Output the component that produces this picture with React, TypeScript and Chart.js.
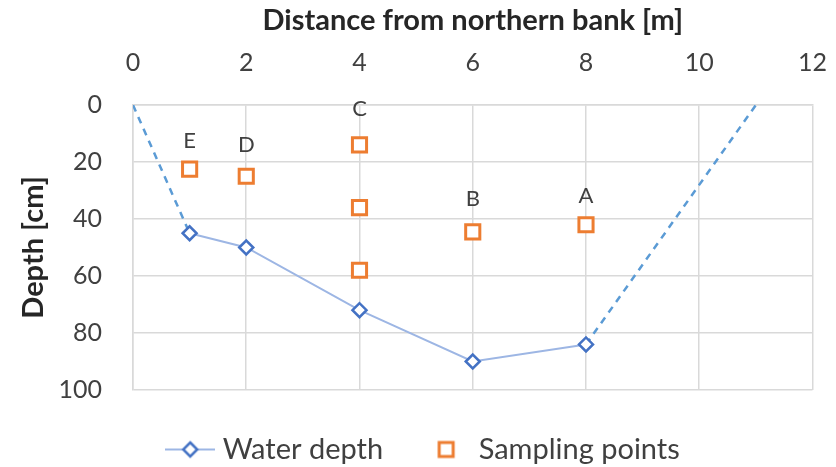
import { useEffect, useRef } from 'react';
import { Chart, registerables } from 'chart.js';

Chart.register(...registerables);

// ---- data ----
const depthX = [1, 2, 4, 6, 8];
const depthY = [45, 50, 72, 90, 84];
const leftBankX = [0, 1];
const leftBankY = [0, 45];
const rightBankX = [8, 11];
const rightBankY = [84, 0];
const sampleX = [1, 2, 4, 4, 4, 6, 8];
const sampleY = [22.5, 25, 14, 36, 58, 44.5, 42];
const pointNames = ['E', 'D', 'C', 'B', 'A'];
const pointNameX = [1, 2, 4, 6, 8];
const pointNameY = [12.5, 14, 1.5, 33, 32];
const seriesNames = ['Water depth', 'Sampling points'];

const FONT = 'Lato';
const TICK_COLOR = '#404040';
const TITLE_COLOR = '#262626';
const GRID = '#d9d9d9';
const LINE_BLUE = '#9db6e4';
const MARK_BLUE = '#4472c4';
const DASH_BLUE = '#5b9bd5';
const ORANGE = '#ed7d31';

const toPts = (xs: number[], ys: number[]) => xs.map((x, i) => ({ x, y: ys[i] }));

function lineDiamondIcon() {
  const c = document.createElement('canvas');
  c.width = 50;
  c.height = 20;
  const ctx = c.getContext('2d')!;
  ctx.strokeStyle = LINE_BLUE;
  ctx.lineWidth = 2;
  ctx.beginPath();
  ctx.moveTo(0, 10);
  ctx.lineTo(50, 10);
  ctx.stroke();
  ctx.beginPath();
  ctx.moveTo(25, 3);
  ctx.lineTo(32, 10);
  ctx.lineTo(25, 17);
  ctx.lineTo(18, 10);
  ctx.closePath();
  ctx.fillStyle = '#fff';
  ctx.fill();
  ctx.strokeStyle = MARK_BLUE;
  ctx.lineWidth = 2.5;
  ctx.stroke();
  return c;
}

function squareIcon() {
  const c = document.createElement('canvas');
  c.width = 50;
  c.height = 20;
  const ctx = c.getContext('2d')!;
  ctx.fillStyle = '#fff';
  ctx.fillRect(18, 3, 14, 14);
  ctx.strokeStyle = ORANGE;
  ctx.lineWidth = 3;
  ctx.strokeRect(18, 3, 14, 14);
  return c;
}

const pointNamePlugin = {
  id: 'pointNames',
  afterDatasetsDraw(chart: any) {
    const { ctx, scales } = chart;
    ctx.save();
    ctx.font = `22px ${FONT}`;
    ctx.fillStyle = TICK_COLOR;
    ctx.textAlign = 'center';
    ctx.textBaseline = 'middle';
    pointNames.forEach((n, i) => {
      ctx.fillText(n, scales.x.getPixelForValue(pointNameX[i]), scales.y.getPixelForValue(pointNameY[i]));
    });
    ctx.restore();
  },
};

export default function App() {
  const ref = useRef<HTMLCanvasElement | null>(null);
  useEffect(() => {
    const diamondIcon = lineDiamondIcon();
    const sqIcon = squareIcon();
    const chart = new Chart(ref.current!, {
      type: 'scatter',
      data: {
        datasets: [
          {
            label: seriesNames[0],
            data: toPts(depthX, depthY),
            showLine: true,
            borderColor: LINE_BLUE,
            borderWidth: 2,
            pointStyle: 'rectRot',
            pointRadius: 7,
            pointBorderColor: MARK_BLUE,
            pointBackgroundColor: '#fff',
            pointBorderWidth: 2.5,
            order: 2,
          },
          {
            label: 'left',
            data: toPts(leftBankX, leftBankY),
            showLine: true,
            borderColor: DASH_BLUE,
            borderWidth: 2.5,
            borderDash: [7, 6],
            pointRadius: 0,
            order: 3,
          },
          {
            label: 'right',
            data: toPts(rightBankX, rightBankY),
            showLine: true,
            borderColor: DASH_BLUE,
            borderWidth: 2.5,
            borderDash: [7, 6],
            pointRadius: 0,
            order: 3,
          },
          {
            label: seriesNames[1],
            data: toPts(sampleX, sampleY),
            showLine: false,
            pointStyle: 'rect',
            pointRadius: 10,
            pointBorderColor: ORANGE,
            pointBackgroundColor: '#fff',
            pointBorderWidth: 3,
            order: 1,
          },
        ],
      },
      options: {
        animation: false,
        responsive: false,
        layout: { padding: { left: 16, top: 0, right: 0, bottom: -7 } },
        scales: {
          x: {
            type: 'linear',
            position: 'top',
            min: 0,
            max: 12,
            ticks: { stepSize: 2, padding: 9, color: TICK_COLOR, font: { family: FONT, size: 25 } },
            grid: { color: GRID, lineWidth: 1.5, drawTicks: true, tickLength: 18, tickColor: 'rgba(0,0,0,0)' },
            border: { color: GRID, width: 1.5 },
            title: {
              display: true,
              text: 'Distance from northern bank [m]',
              color: TITLE_COLOR,
              font: { family: FONT, size: 29, weight: 'bold' },
              padding: { top: 3, bottom: 0 },
            },
            afterFit: (s: any) => { s.height = 105; },
          },
          y: {
            type: 'linear',
            reverse: true,
            min: 0,
            max: 100,
            ticks: { stepSize: 20, padding: 31, color: TICK_COLOR, font: { family: FONT, size: 25 } },
            grid: { color: GRID, lineWidth: 1.5, drawTicks: false },
            border: { color: GRID, width: 1.5 },
            title: {
              display: true,
              text: 'Depth [cm]',
              color: TITLE_COLOR,
              font: { family: FONT, size: 29, weight: 'bold' },
              padding: { top: 0, bottom: 0 },
            },
            afterFit: (s: any) => { s.width = 117; },
          },
        },
        plugins: {
          tooltip: { enabled: false },
          legend: {
            position: 'bottom',
            labels: {
              usePointStyle: true,
              pointStyleWidth: 36,
              padding: 45,
              color: TICK_COLOR,
              font: { family: FONT, size: 29 },
              generateLabels: () => [
                { text: seriesNames[0], pointStyle: diamondIcon as any, datasetIndex: 0, hidden: false, fontColor: TICK_COLOR, lineWidth: 0, strokeStyle: 'transparent', fillStyle: 'transparent' },
                { text: seriesNames[1], pointStyle: sqIcon as any, datasetIndex: 3, hidden: false, fontColor: TICK_COLOR, lineWidth: 0, strokeStyle: 'transparent', fillStyle: 'transparent' },
              ],
            },
          },
        },
      },
      plugins: [pointNamePlugin],
    });
    return () => chart.destroy();
  }, []);
  return (
    <div style={{ position: 'absolute', left: 0, top: 0, width: 836, height: 467, background: '#fff' }}>
      <canvas ref={ref} width={836} height={467} />
    </div>
  );
}
